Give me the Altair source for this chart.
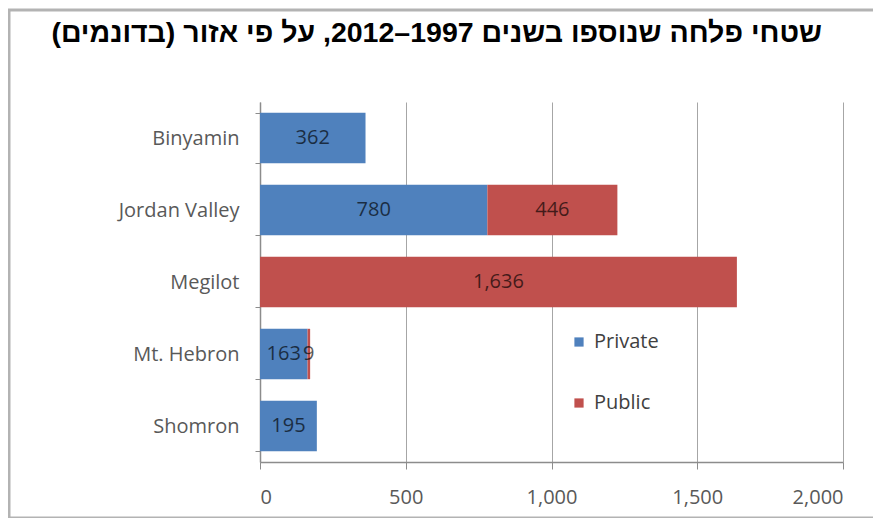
import altair as alt
import pandas as pd

regions = ["Binyamin", "Jordan Valley", "Megilot", "Mt. Hebron", "Shomron"]
private = [362, 780, 0, 163, 195]
public = [0, 446, 1636, 9, 0]
series = ["Private", "Public"]
colors = ["#4F81BD", "#C0504D"]
x_ticks = [0, 500, 1000, 1500, 2000]
title_text = "שטחי פלחה שנוספו בשנים 1997–2012, על פי אזור (בדונמים)"

rows = []
for r, pv, pb in zip(regions, private, public):
    rows.append({"region": r, "type": series[0], "value": pv, "order": 0})
    rows.append({"region": r, "type": series[1], "value": pb, "order": 1})
df = pd.DataFrame(rows)

label_font = "Open Sans"
fs = 20

base = (
    alt.Chart(df)
    .transform_stack(
        stack="value",
        groupby=["region"],
        as_=["x0", "x1"],
        sort=[alt.SortField("order", order="ascending")],
    )
    .transform_calculate(mid="(datum.x0 + datum.x1) / 2")
    .transform_filter("datum.value > 0")
)

y_enc = alt.Y(
    "region:N",
    sort=regions,
    title=None,
    scale=alt.Scale(paddingInner=0.3, paddingOuter=0.15),
    axis=alt.Axis(
        tickBand="extent",
        tickSize=5,
        labelPadding=16,
        labelFontSize=fs,
        labelFont=label_font,
        labelColor="#595959",
        domainColor="#8c8c8c",
        tickColor="#8c8c8c",
        domainWidth=1.5,
        grid=False,
    ),
)

x_scale = alt.Scale(domain=[0, 2000], nice=False)

bars = base.mark_bar().encode(
    x=alt.X(
        "x0:Q",
        scale=x_scale,
        title=None,
        axis=alt.Axis(
            values=x_ticks,
            format=",.0f",
            grid=True,
            gridColor="#a6a6a6",
            gridWidth=1,
            domainColor="#8c8c8c",
            domainWidth=1.5,
            tickColor="#8c8c8c",
            tickSize=7,
            labelPadding=18,
            labelFontSize=fs,
            labelFont=label_font,
            labelColor="#595959",
        ),
    ),
    x2="x1:Q",
    y=y_enc,
    color=alt.Color(
        "type:N",
        scale=alt.Scale(domain=series, range=colors),
        legend=alt.Legend(
            title=None,
            orient="none",
            legendX=309,
            legendY=230,
            symbolType="square",
            symbolSize=85,
            symbolStrokeWidth=0,
            labelFontSize=fs,
            labelFont=label_font,
            labelColor="#404040",
            rowPadding=41,
            labelOffset=5,
        ),
    ),
)

labels = base.mark_text(
    fontSize=fs, font=label_font, color="black", opacity=0.65
).encode(
    x=alt.X("mid:Q", scale=x_scale),
    y=alt.Y("region:N", sort=regions),
    text=alt.Text("value:Q", format=","),
)

frame = (
    alt.Chart(pd.DataFrame({"f": [0]}))
    .mark_rect(fill=None, stroke="#b3b3b3", strokeWidth=3)
    .encode(
        x=alt.value(-251),
        x2=alt.value(640),
        y=alt.value(-92),
        y2=alt.value(416),
    )
)

chart = (
    alt.layer(frame, bars, labels)
    .properties(
        width=583,
        height=360,
        padding={"left": 252, "top": 94, "right": 30, "bottom": 56},
        autosize=alt.AutoSizeParams(type="none"),
        title=alt.TitleParams(
            title_text,
            anchor="end",
            frame="group",
            dx=-21,
            offset=-39,
            fontSize=28.5,
            font="Liberation Sans",
            fontWeight="bold",
            color="black",
        ),
    )
    .configure_view(stroke=None)
)

chart.save("out.html", embed_options={"renderer": "svg", "actions": False})
